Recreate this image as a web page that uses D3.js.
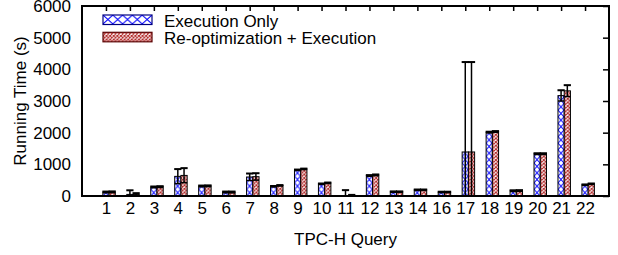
<!DOCTYPE html>
<html>
<head>
<meta charset="utf-8">
<script src="https://cdn.jsdelivr.net/npm/d3@7"></script>
<style>
  body { margin: 0; background: #fff; }
  text { font-family: "Liberation Sans", Arial, sans-serif; fill: #000; }
</style>
</head>
<body>
<div id="chart"></div>
<script>
'use strict';
// TPC-H queries (15 is not in the run)
const queries = ["1","2","3","4","5","6","7","8","9","10","11","12","13","14","16","17","18","19","20","21","22"];
const execOnly  = [120, 50, 280, 620, 310, 120, 600, 300, 820, 380, 15, 640, 130, 190, 120, 1390, 2010, 160, 1330, 3170, 350];
const execErr   = [20, 130, 20, 230, 20, 20, 110, 15, 15, 15, 170, 20, 15, 15, 15, 2840, 20, 20, 20, 170, 15];
const reoptExec = [125, 50, 290, 650, 315, 120, 610, 330, 850, 410, 15, 660, 130, 190, 120, 1390, 2030, 165, 1330, 3320, 380];
const reoptErr  = [20, 40, 20, 230, 20, 20, 110, 15, 15, 15, 20, 20, 15, 15, 15, 2840, 20, 20, 20, 180, 15];
const seriesNames = ["Execution Only", "Re-optimization + Execution"];
const yTicks = [0, 1000, 2000, 3000, 4000, 5000, 6000];

const W = 618, H = 255;
const margin = {top: 6, right: 9, bottom: 59, left: 82};
const width = W - margin.left - margin.right;
const height = H - margin.top - margin.bottom;

const svg = d3.select("#chart").append("svg")
    .attr("width", W)
    .attr("height", H);

// fill patterns
const defs = svg.append("defs");
function crossPattern(id, w, h, color, sw, bg) {
    const p = defs.append("pattern")
        .attr("id", id)
        .attr("patternUnits", "userSpaceOnUse")
        .attr("width", w)
        .attr("height", h);
    p.append("rect").attr("width", w).attr("height", h).attr("fill", bg);
    p.append("path")
        .attr("d", `M0,0L${w},${h}M${w},0L0,${h}`)
        .attr("stroke", color)
        .attr("stroke-width", sw)
        .attr("fill", "none");
}
crossPattern("blueX", 6, 6.6, "#0000ff", 1, "#fff");
crossPattern("redX", 3.6, 3.6, "#b02424", 1.0, "#fff");
crossPattern("blueXLeg", 9.8, 9, "#0000ff", 1, "#fff");

const g = svg.append("g")
    .attr("transform", "translate(" + margin.left + "," + margin.top + ")");

const x = d3.scaleLinear().domain([-1, 21]).range([0, width]);
const y = d3.scaleLinear().domain([0, 6000]).range([height, 0]);

const boxW = 0.26; // bar width in x units
const bw = x(boxW) - x(0);
const idx = d3.range(queries.length);

const series = [
    {vals: execOnly, errs: execErr, fill: "url(#blueX)", off: 0},
    {vals: reoptExec, errs: reoptErr, fill: "url(#redX)", off: boxW}
];

series.forEach(function (s) {
    const bars = g.selectAll(null).data(idx).enter()
        .append("g")
        .attr("transform", function (i) {
            return "translate(" + (x(i + s.off) - bw / 2) + "," + y(0) + ")";
        });
    bars.append("rect")
        .attr("x", 0)
        .attr("y", function (i) { return y(s.vals[i]) - y(0); })
        .attr("width", bw)
        .attr("height", function (i) { return y(0) - y(s.vals[i]); })
        .attr("fill", s.fill)
        .attr("stroke", "#000")
        .attr("stroke-width", 1);
});

// error bars
series.forEach(function (s) {
    const eb = g.selectAll(null).data(idx).enter().append("g");
    eb.append("line")
        .attr("x1", function (i) { return x(i + s.off); })
        .attr("x2", function (i) { return x(i + s.off); })
        .attr("y1", function (i) { return y(Math.max(0, s.vals[i] - s.errs[i])); })
        .attr("y2", function (i) { return y(s.vals[i] + s.errs[i]); })
        .attr("stroke", "#000")
        .attr("stroke-width", 1.5);
    eb.append("line")
        .attr("x1", function (i) { return x(i + s.off) - bw / 2 - 0.5; })
        .attr("x2", function (i) { return x(i + s.off) + bw / 2 + 0.5; })
        .attr("y1", function (i) { return y(s.vals[i] + s.errs[i]); })
        .attr("y2", function (i) { return y(s.vals[i] + s.errs[i]); })
        .attr("stroke", "#000")
        .attr("stroke-width", 2);
    eb.filter(function (i) { return s.vals[i] - s.errs[i] > 0; })
        .append("line")
        .attr("x1", function (i) { return x(i + s.off) - bw / 2; })
        .attr("x2", function (i) { return x(i + s.off) + bw / 2; })
        .attr("y1", function (i) { return y(s.vals[i] - s.errs[i]); })
        .attr("y2", function (i) { return y(s.vals[i] - s.errs[i]); })
        .attr("stroke", "#000")
        .attr("stroke-width", 1.5);
});

// axes: labels on left/bottom, inward ticks on top/right
const yAxis = d3.axisLeft(y).tickValues(yTicks).tickSize(0).tickPadding(11).tickFormat(d3.format("d"));
const yG = g.append("g").call(yAxis);
yG.select(".domain").remove();
yG.selectAll("text").style("font-size", "17px").attr("font-family", null);

const xAxis = d3.axisBottom(x).tickValues(idx)
    .tickSize(0).tickPadding(6).tickFormat(function (i) { return queries[i]; });
const xG = g.append("g").attr("transform", "translate(0," + height + ")").call(xAxis);
xG.select(".domain").remove();
xG.selectAll("text").style("font-size", "17px").attr("font-family", null);

const topAxis = d3.axisTop(x).tickValues(idx).tickSizeInner(-5).tickSizeOuter(0).tickFormat("");
const tG = g.append("g").call(topAxis);
tG.select(".domain").remove();
tG.selectAll("line").attr("stroke-width", 1.5);

const rightAxis = d3.axisRight(y).tickValues(yTicks).tickSizeInner(-6).tickSizeOuter(0).tickFormat("");
const rG = g.append("g").attr("transform", "translate(" + width + ",0)").call(rightAxis);
rG.select(".domain").remove();
rG.selectAll("line").attr("stroke-width", 1.5);

g.append("rect")
    .attr("width", width)
    .attr("height", height)
    .attr("fill", "none")
    .attr("stroke", "#000")
    .attr("stroke-width", 2);

// axis titles
svg.append("text")
    .attr("transform", "translate(26," + (margin.top + height / 2) + ") rotate(-90)")
    .attr("text-anchor", "middle")
    .style("font-size", "17px")
    .text("Running Time (s)");

svg.append("text")
    .attr("x", margin.left + width / 2)
    .attr("y", 245)
    .attr("text-anchor", "middle")
    .style("font-size", "17px")
    .text("TPC-H Query");

// legend
const legFills = ["url(#blueXLeg)", "url(#redX)"];
const leg = svg.append("g").selectAll("g").data(seriesNames).enter().append("g")
    .attr("transform", function (d, i) { return "translate(103," + (15 + i * 17.3) + ")"; });
leg.append("rect")
    .attr("width", 49)
    .attr("height", 9.5)
    .attr("fill", function (d, i) { return legFills[i]; })
    .attr("stroke", function (d, i) { return i === 0 ? "#000080" : "#5a0000"; })
    .attr("stroke-width", 1.2);
leg.append("text")
    .attr("x", 61)
    .attr("y", 11.5)
    .style("font-size", "17px")
    .text(function (d) { return d; });
</script>
</body>
</html>
